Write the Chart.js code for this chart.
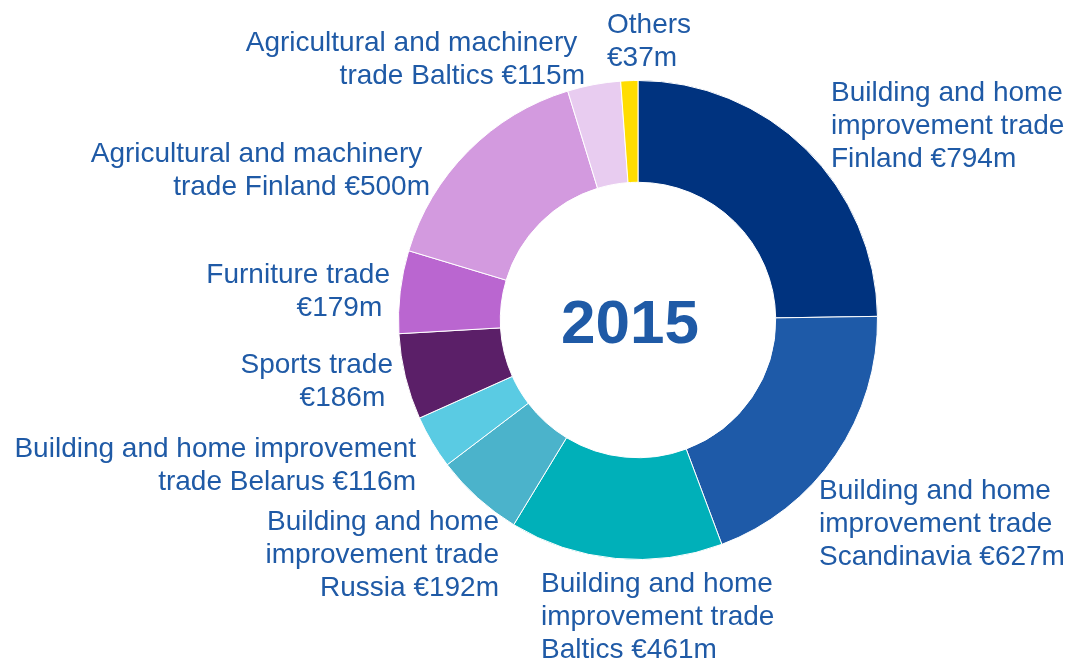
<!DOCTYPE html>
<html>
<head>
<meta charset="utf-8">
<title>2015 sales by segment</title>
<script src="https://cdn.jsdelivr.net/npm/chart.js@4/dist/chart.umd.min.js"></script>
<style>
  html, body { margin: 0; padding: 0; background: #fff; }
  #wrap { width: 1070px; height: 660px; }
</style>
</head>
<body>
<div id="wrap"><canvas id="grafico" width="1070" height="660"></canvas></div>
<script>
/* ===== dados ===== */
const segmentos = [
  "Building and home improvement trade Finland",
  "Building and home improvement trade Scandinavia",
  "Building and home improvement trade Baltics",
  "Building and home improvement trade Russia",
  "Building and home improvement trade Belarus",
  "Sports trade",
  "Furniture trade",
  "Agricultural and machinery trade Finland",
  "Agricultural and machinery trade Baltics",
  "Others"
];
const vendas = [794, 627, 461, 192, 116, 186, 179, 500, 115, 37];
const rotulos = [
  ["Building and home", "improvement trade", "Finland €794m"],
  ["Building and home", "improvement trade", "Scandinavia €627m"],
  ["Building and home", "improvement trade", "Baltics €461m"],
  ["Building and home", "improvement trade", "Russia €192m"],
  ["Building and home improvement", "trade Belarus €116m"],
  ["Sports trade", "€186m "],
  ["Furniture trade", "€179m "],
  ["Agricultural and machinery ", "trade Finland €500m"],
  ["Agricultural and machinery ", "trade Baltics €115m"],
  ["Others", "€37m"]
];
const anoCentral = "2015";

/* ===== estilo ===== */
const CORES = [
  "#00337f", "#1e5aa8", "#00b0b9", "#4bb3cb", "#5acbe3",
  "#5b1f68", "#ba66d0", "#d39adf", "#e8ccf0", "#ffdd00"
];
const COR_TEXTO = "#1f5aa6";
const FONTE = "'Liberation Sans', Arial, sans-serif";
const ENTRELINHA = 33;

// posição do texto de cada rótulo (x, baseline da 1ª linha, alinhamento)
const POS_ROTULOS = [
  { x: 831, y: 101, align: "left" },
  { x: 819, y: 499, align: "left" },
  { x: 541, y: 592, align: "left" },
  { x: 499, y: 530, align: "right" },
  { x: 416, y: 457, align: "right" },
  { x: 393, y: 373, align: "right" },
  { x: 390, y: 283, align: "right" },
  { x: 430, y: 162, align: "right" },
  { x: 585, y: 51, align: "right" },
  { x: 607, y: 33, align: "left" }
];

/* ===== plugin de textos ===== */
const textosPlugin = {
  id: "textos",
  afterDraw(chart) {
    const ctx = chart.ctx;
    ctx.save();
    ctx.fillStyle = COR_TEXTO;
    ctx.textBaseline = "alphabetic";
    ctx.font = "28px " + FONTE;
    rotulos.forEach((linhas, i) => {
      const p = POS_ROTULOS[i];
      ctx.textAlign = p.align;
      linhas.forEach((t, k) => ctx.fillText(t, p.x, p.y + k * ENTRELINHA));
    });

    // ano no centro
    const arc = chart.getDatasetMeta(0).data[0];
    ctx.font = "bold 62px " + FONTE;
    ctx.textAlign = "center";
    ctx.fillText(anoCentral, arc.x - 8, arc.y + 23);
    ctx.restore();
  }
};

/* ===== gráfico ===== */
const ctx = document.getElementById("grafico").getContext("2d");
new Chart(ctx, {
  type: "doughnut",
  data: {
    labels: segmentos,
    datasets: [{
      data: vendas,
      backgroundColor: CORES,
      borderColor: "#ffffff",
      borderWidth: 1
    }]
  },
  options: {
    responsive: false,
    animation: false,
    cutout: "57.5%",
    layout: { padding: { left: 398, right: 192, top: 80, bottom: 100 } },
    plugins: {
      legend: { display: false },
      tooltip: { enabled: false }
    }
  },
  plugins: [textosPlugin]
});
</script>
</body>
</html>
